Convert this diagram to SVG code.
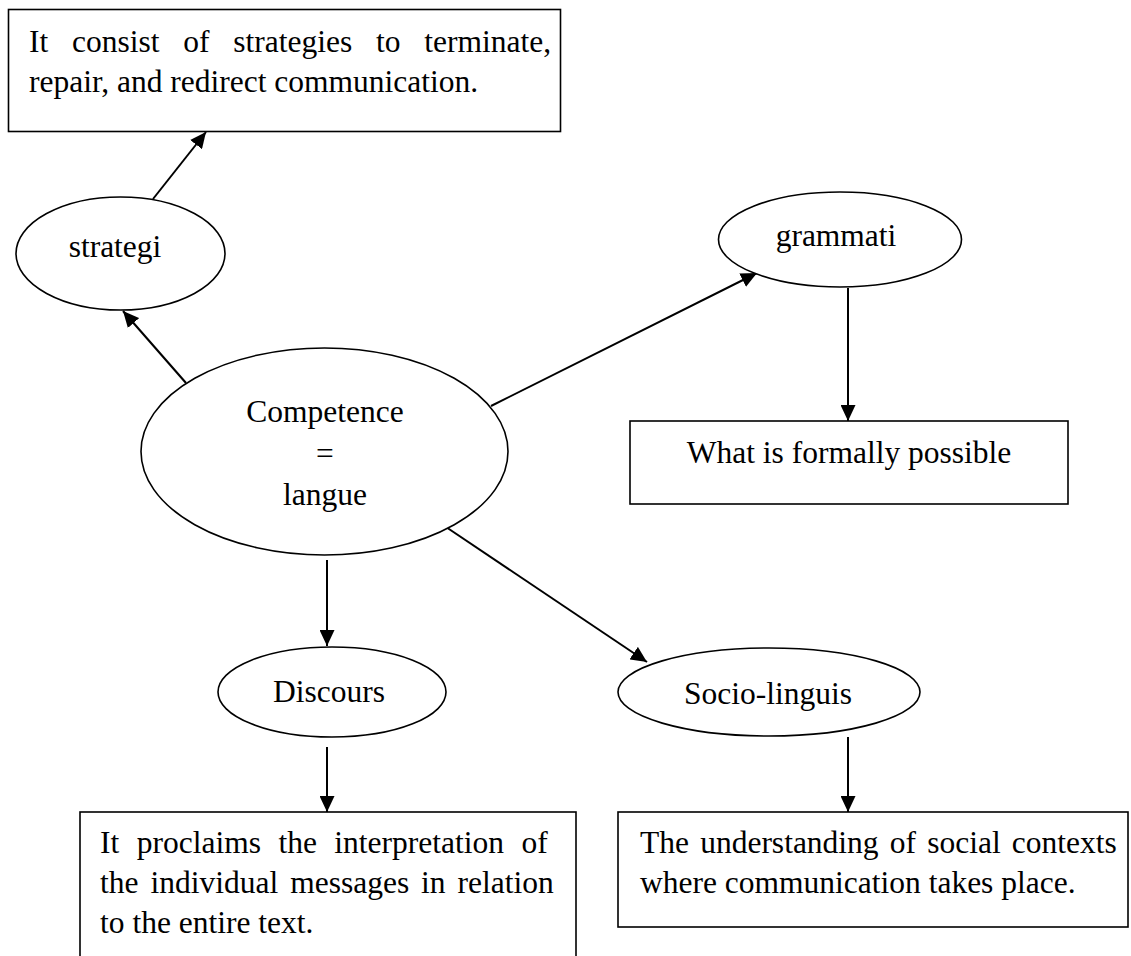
<svg xmlns="http://www.w3.org/2000/svg" width="1131" height="956" viewBox="0 0 1131 956">
  <style>
    .shape { fill: #ffffff; stroke: #000000; stroke-width: 1.6; }
    .conn { stroke: #000000; stroke-width: 2; fill: none; }
    .t { font-family: "Liberation Serif", "Times New Roman", serif; font-size: 31.5px; fill: #000000; }
    .c { text-anchor: middle; }
  </style>
  <defs>
    <marker id="arrow" markerUnits="userSpaceOnUse" markerWidth="16" markerHeight="15" refX="16" refY="7.5" orient="auto">
      <path d="M0,0 L16,7.5 L0,15 z" fill="#000000"/>
    </marker>
  </defs>
  <rect x="0" y="0" width="1131" height="956" fill="#ffffff"/>

  <g id="connectors">
    <line class="conn" x1="153" y1="199" x2="206" y2="132" marker-end="url(#arrow)"/>
    <line class="conn" x1="186" y1="383" x2="123" y2="311" marker-end="url(#arrow)"/>
    <line class="conn" x1="491" y1="406" x2="757" y2="273" marker-end="url(#arrow)"/>
    <line class="conn" x1="848" y1="288" x2="848" y2="421" marker-end="url(#arrow)"/>
    <line class="conn" x1="327" y1="560" x2="327" y2="646" marker-end="url(#arrow)"/>
    <line class="conn" x1="446" y1="527" x2="647" y2="662" marker-end="url(#arrow)"/>
    <line class="conn" x1="327" y1="747" x2="327" y2="812" marker-end="url(#arrow)"/>
    <line class="conn" x1="848" y1="737" x2="848" y2="812" marker-end="url(#arrow)"/>
  </g>

  <g id="strategy-box">
    <rect class="shape" x="8.5" y="9.5" width="552" height="122"/>
    <text class="t" x="29" y="52" word-spacing="15.9">It consist of strategies to terminate,</text>
    <text class="t" x="29" y="92">repair, and redirect communication.</text>
  </g>

  <g id="strategi">
    <ellipse class="shape" cx="120.5" cy="253.5" rx="104.5" ry="56.5"/>
    <text class="t c" x="115" y="257">strategi</text>
  </g>

  <g id="competence">
    <ellipse class="shape" cx="324.5" cy="451.5" rx="183.5" ry="103.5"/>
    <text class="t c" x="325" y="422">Competence</text>
    <text class="t c" x="325" y="464">=</text>
    <text class="t c" x="325" y="505">langue</text>
  </g>

  <g id="grammati">
    <ellipse class="shape" cx="840" cy="239.5" rx="121.5" ry="47.5"/>
    <text class="t c" x="836" y="246">grammati</text>
  </g>

  <g id="grammar-box">
    <rect class="shape" x="630" y="421" width="438" height="83"/>
    <text class="t c" x="849" y="463">What is formally possible</text>
  </g>

  <g id="discours">
    <ellipse class="shape" cx="332" cy="692" rx="114" ry="45"/>
    <text class="t c" x="329" y="702">Discours</text>
  </g>

  <g id="discourse-box">
    <rect class="shape" x="80" y="812" width="496" height="160"/>
    <text class="t" x="100" y="853" word-spacing="9.6">It proclaims the interpretation of</text>
    <text class="t" x="100" y="893" word-spacing="4.1">the individual messages in relation</text>
    <text class="t" x="100" y="933">to the entire text.</text>
  </g>

  <g id="socio-linguis">
    <ellipse class="shape" cx="769" cy="692" rx="151" ry="44"/>
    <text class="t c" x="768" y="704">Socio-linguis</text>
  </g>

  <g id="socio-box">
    <rect class="shape" x="618" y="812" width="510" height="115"/>
    <text class="t" x="640" y="853" word-spacing="3.3">The understanding of social contexts</text>
    <text class="t" x="640" y="893">where communication takes place.</text>
  </g>
</svg>
